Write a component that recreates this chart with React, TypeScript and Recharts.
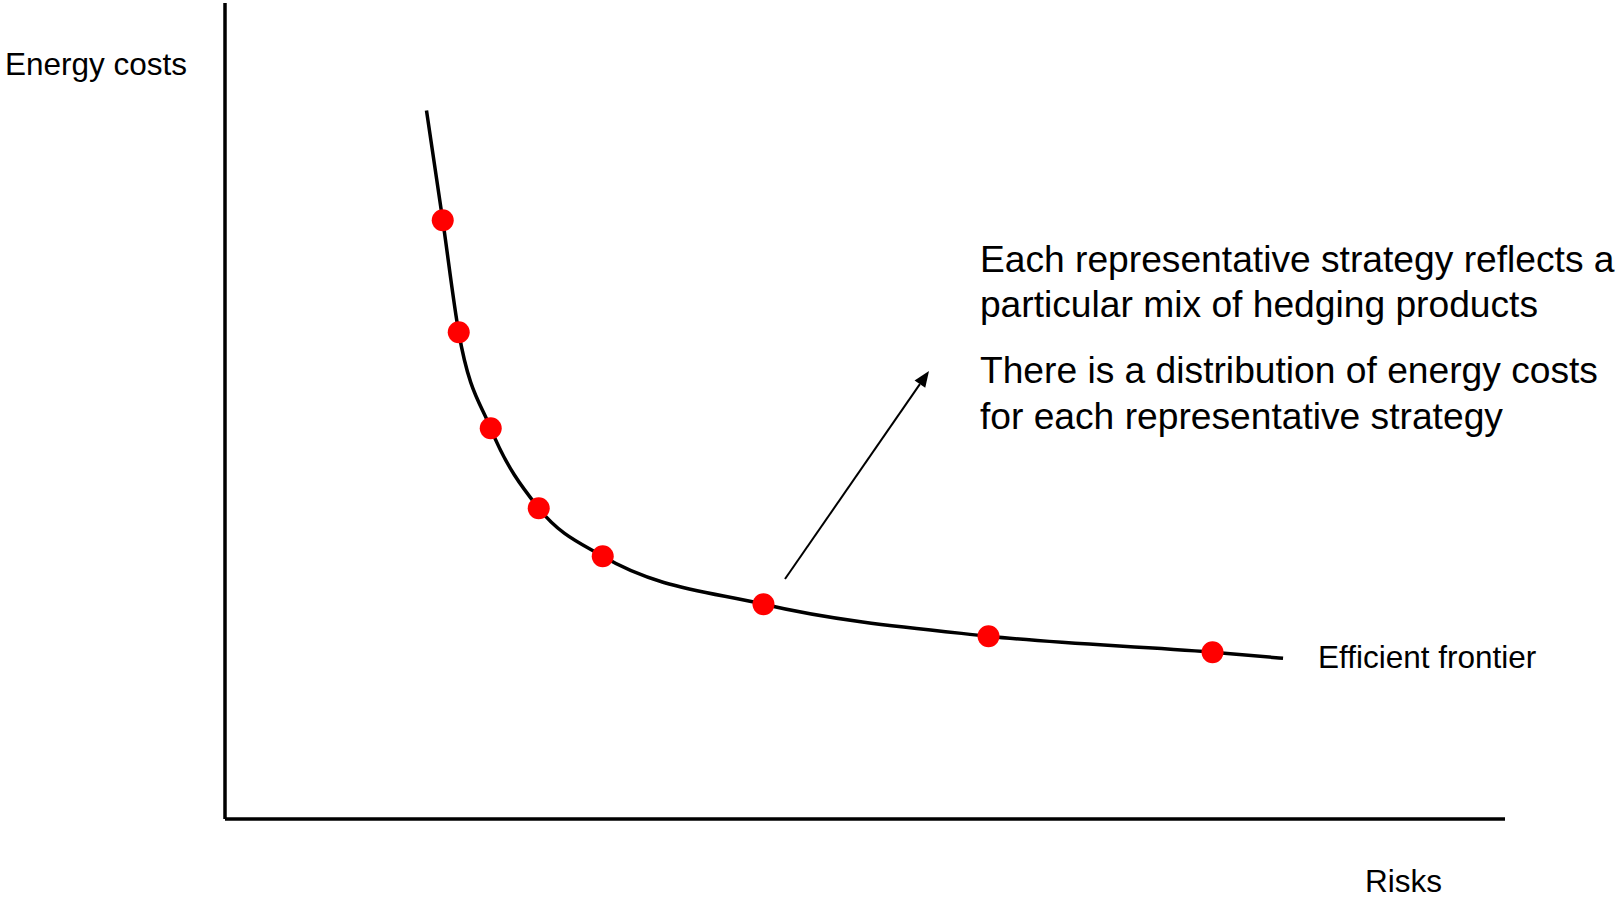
import { ComposedChart, Line, Scatter, XAxis, YAxis, ReferenceLine, ReferenceDot } from "recharts";

const FONT = "'Liberation Sans', Arial, Helvetica, sans-serif";

// efficient frontier, traced from low risk / high cost out to high risk / low cost
const frontierRisk = [15.74, 17.01, 18.26, 20.76, 24.51, 29.51, 42.07, 59.65, 77.15, 82.66];
const frontierCost = [86.83, 73.37, 59.64, 47.88, 38.08, 32.19, 26.32, 22.4, 20.44, 19.69];

// representative hedging strategies sitting on the frontier
const strategyRisk = [17.01, 18.26, 20.76, 24.51, 29.51, 42.07, 59.65, 77.15];
const strategyCost = [73.37, 59.64, 47.88, 38.08, 32.19, 26.32, 22.4, 20.44];

// callout arrow and its note
const arrowFrom = { risk: 43.75, cost: 29.41 };
const arrowTo = { risk: 55.0, cost: 54.9 };
const noteAnchor = { risk: 58.98, cost: 67.07 };
const noteLines = [
  "Each representative strategy reflects a",
  "particular mix of hedging products",
  "There is a distribution of energy costs",
  "for each representative strategy",
];
const noteOffsets = [0, 45.6, 111.6, 157.3];

const frontier = frontierRisk.map((risk, i) => ({ risk, cost: frontierCost[i] }));
const strategies = strategyRisk.map((risk, i) => ({ risk, cost: strategyCost[i] }));
const frontierEnd = frontier[frontier.length - 1];

function Arrow(props: any) {
  const { x1, y1, x2, y2 } = props;
  const ang = Math.atan2(y2 - y1, x2 - x1);
  const len = 16;
  const half = 6.5;
  const bx = x2 - len * Math.cos(ang);
  const by = y2 - len * Math.sin(ang);
  const px = -Math.sin(ang) * half;
  const py = Math.cos(ang) * half;
  return (
    <g>
      <line x1={x1} y1={y1} x2={bx} y2={by} stroke="#000" strokeWidth={2} />
      <polygon points={`${x2},${y2} ${bx + px},${by + py} ${bx - px},${by - py}`} fill="#000" />
    </g>
  );
}

const StrategyDot = (p: any) => <circle cx={p.cx} cy={p.cy} r={11} fill="#ff0000" />;

export default function App() {
  return (
    <div style={{ position: "absolute", left: 0, top: 0, width: 1618, height: 897, background: "#fff" }}>
      {/* axes are 1px deep so they still render; the plot box spans 225..1505 x 3..819 */}
      <ComposedChart width={1618} height={897} margin={{ top: 3, right: 113, bottom: 77, left: 224 }}>
        <XAxis
          type="number"
          dataKey="risk"
          domain={[0, 100]}
          height={1}
          tick={false}
          tickLine={false}
          axisLine={{ stroke: "#000", strokeWidth: 3.5 }}
          label={(p: any) => {
            const vb = p.viewBox || { x: 225, y: 819, width: 1280 };
            return (
              <text x={vb.x + vb.width - 140} y={vb.y + 73} fontFamily={FONT} fontSize={31.5} fill="#000">
                Risks
              </text>
            );
          }}
        />
        <YAxis
          type="number"
          dataKey="cost"
          domain={[0, 100]}
          width={1}
          tick={false}
          tickLine={false}
          axisLine={{ stroke: "#000", strokeWidth: 3.5 }}
          label={(p: any) => {
            const vb = p.viewBox || { x: 224, y: 3, width: 1 };
            return (
              <text x={vb.x + vb.width - 220} y={vb.y + 72} fontFamily={FONT} fontSize={31.5} fill="#000">
                Energy costs
              </text>
            );
          }}
        />
        <Line
          data={frontier}
          dataKey="cost"
          type="monotone"
          stroke="#000"
          strokeWidth={3.5}
          dot={false}
          activeDot={false}
          isAnimationActive={false}
        />
        <Scatter data={strategies} dataKey="cost" shape={StrategyDot} isAnimationActive={false} />
        <ReferenceLine
          segment={[
            { x: arrowFrom.risk, y: arrowFrom.cost },
            { x: arrowTo.risk, y: arrowTo.cost },
          ]}
          shape={Arrow}
          ifOverflow="visible"
        />
        <ReferenceDot
          x={frontierEnd.risk}
          y={frontierEnd.cost}
          r={0}
          fill="none"
          stroke="none"
          ifOverflow="visible"
          label={(p: any) => {
            const vb = p.viewBox;
            return (
              <text x={vb.x + 35} y={vb.y + 10} fontFamily={FONT} fontSize={31.5} fill="#000">
                Efficient frontier
              </text>
            );
          }}
        />
        <ReferenceDot
          x={noteAnchor.risk}
          y={noteAnchor.cost}
          r={0}
          fill="none"
          stroke="none"
          ifOverflow="visible"
          label={(p: any) => {
            const vb = p.viewBox;
            return (
              <g>
                {noteLines.map((line, i) => (
                  <text key={i} x={vb.x} y={vb.y + noteOffsets[i]} fontFamily={FONT} fontSize={37.2} fill="#000">
                    {line}
                  </text>
                ))}
              </g>
            );
          }}
        />
      </ComposedChart>
    </div>
  );
}
